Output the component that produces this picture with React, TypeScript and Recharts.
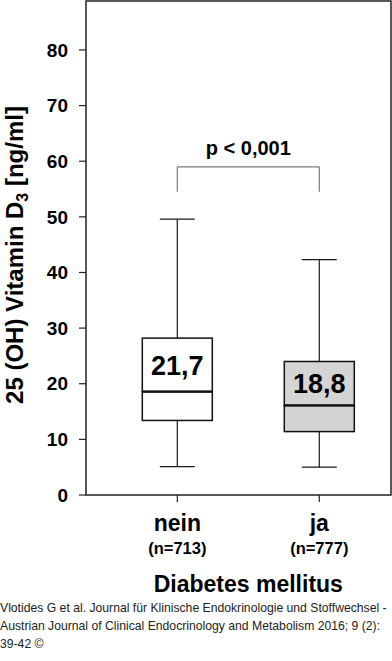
import React from "react";
import {
  ComposedChart,
  Bar,
  XAxis,
  YAxis,
  Cell,
  LabelList,
  ReferenceLine,
  ReferenceArea,
} from "recharts";

const groups = ["nein", "ja"];
const counts = ["n=713", "n=777"];
const whiskerLow = [5.1, 5.0];
const q1 = [13.4, 11.4];
const median = [18.6, 16.1];
const q3 = [28.2, 24.0];
const whiskerHigh = [49.6, 42.3];
const means = [21.7, 18.8];
const yTicks = [0, 10, 20, 30, 40, 50, 60, 70, 80];
const pLabel = "p < 0,001";
const bracketTop = 59.0;
const bracketLegEnd = 54.5;

const FONT = "'Liberation Sans', Arial, sans-serif";
const boxFills = ["#ffffff", "#d4d4d4"];
const X_MIN = 0.357;
const X_MAX = 2.505;
const Y_MAX = 88.8;
const CAP = 35;

const data = groups.map((g, i) => ({
  pos: i + 1,
  name: g,
  mean: means[i],
  base: whiskerLow[i],
  lowWhisker: q1[i] - whiskerLow[i],
  lowBox: median[i] - q1[i],
  highBox: q3[i] - median[i],
  highWhisker: whiskerHigh[i] - q3[i],
}));

function LowWhisker(props: any) {
  const { x, y, width, height } = props;
  const cx = x + width / 2;
  return (
    <g stroke="#1a1a1a" strokeWidth={1.2}>
      <line x1={cx} x2={cx} y1={y} y2={y + height} />
      <line x1={cx - CAP / 2} x2={cx + CAP / 2} y1={y + height} y2={y + height} />
    </g>
  );
}

function HighWhisker(props: any) {
  const { x, y, width, height } = props;
  const cx = x + width / 2;
  return (
    <g stroke="#1a1a1a" strokeWidth={1.2}>
      <line x1={cx} x2={cx} y1={y} y2={y + height} />
      <line x1={cx - CAP / 2} x2={cx + CAP / 2} y1={y} y2={y} />
    </g>
  );
}

function LowBox(props: any) {
  const { x, y, width, height, fill } = props;
  return <rect x={x} y={y} width={width} height={height} fill={fill} stroke="#111" strokeWidth={1.5} />;
}

function HighBox(props: any) {
  const { x, y, width, height, fill } = props;
  return (
    <g>
      <rect x={x} y={y} width={width} height={height} fill={fill} stroke="#111" strokeWidth={1.5} />
      {/* median */}
      <line x1={x} x2={x + width} y1={y + height} y2={y + height} stroke="#111" strokeWidth={2.2} />
    </g>
  );
}

function MeanLabel(props: any) {
  const vb = props.viewBox || props;
  const { x, y, width, height } = vb;
  return (
    <text
      x={x + width / 2}
      y={y + height / 2 + 10}
      textAnchor="middle"
      fill="#000"
      fontSize={27}
      fontWeight="bold"
      fontFamily={FONT}
    >
      {String(props.value).replace(".", ",")}
    </text>
  );
}

function GroupTick(props: any) {
  const { x, y, payload } = props;
  const i = Math.round(payload.value) - 1;
  return (
    <g fontFamily={FONT} fontWeight="bold" fill="#000" textAnchor="middle">
      <text x={x} y={y + 27} fontSize={23}>
        {groups[i]}
      </text>
      <text x={x} y={y + 50} fontSize={16.5}>
        ({counts[i]})
      </text>
    </g>
  );
}

function XTitle(props: any) {
  const { x, y, width } = props.viewBox;
  const cx = x + ((1.5 - X_MIN) / (X_MAX - X_MIN)) * width;
  return (
    <text x={cx} y={y + 96.5} textAnchor="middle" fontSize={23} fontWeight="bold" fontFamily={FONT} fill="#000">
      Diabetes mellitus
    </text>
  );
}

function YTitle(props: any) {
  const { y, height } = props.viewBox;
  const cy = y + height / 2 + 7;
  return (
    <text
      x={23}
      y={cy}
      transform={`rotate(-90, 23, ${cy})`}
      textAnchor="middle"
      fontSize={24}
      fontWeight="bold"
      fontFamily={FONT}
      fill="#000"
    >
      25 (OH) Vitamin D
      <tspan dy={5} fontSize={16}>
        3
      </tspan>
      <tspan dy={-5}> [ng/ml]</tspan>
    </text>
  );
}

export default function App() {
  return (
    <div style={{ position: "absolute", left: 0, top: 0, width: 392, height: 661, background: "#fff" }}>
      <ComposedChart
        width={392}
        height={600}
        data={data}
        margin={{ top: 1, right: 1, bottom: 0, left: 0 }}
      >
        <XAxis
          dataKey="pos"
          type="number"
          domain={[X_MIN, X_MAX]}
          ticks={[1, 2]}
          height={105}
          tickSize={7}
          tickMargin={2}
          axisLine={false}
          tickLine={{ stroke: "#222", strokeWidth: 1.2 }}
          tick={<GroupTick />}
          label={{ content: <XTitle /> }}
        />
        <YAxis
          type="number"
          domain={[0, Y_MAX]}
          ticks={yTicks}
          width={86}
          tickSize={7}
          tickMargin={11}
          axisLine={false}
          tickLine={{ stroke: "#222", strokeWidth: 1.2 }}
          tick={{ fill: "#000", fontSize: 19, fontWeight: "bold", fontFamily: FONT }}
          label={{ content: <YTitle /> }}
        />
        <ReferenceArea
          x1={X_MIN}
          x2={X_MAX}
          y1={0}
          y2={Y_MAX}
          fill="none"
          fillOpacity={0}
          stroke="#222"
          strokeWidth={1.5}
          strokeOpacity={1}
        />
        <Bar dataKey="base" stackId="box" barSize={70} fill="none" shape={() => null} isAnimationActive={false} />
        <Bar dataKey="lowWhisker" stackId="box" barSize={70} shape={<LowWhisker />} isAnimationActive={false} />
        <Bar dataKey="lowBox" stackId="box" barSize={70} shape={<LowBox />} isAnimationActive={false}>
          {data.map((_, i) => (
            <Cell key={`lb-${i}`} fill={boxFills[i]} />
          ))}
        </Bar>
        <Bar dataKey="highBox" stackId="box" barSize={70} shape={<HighBox />} isAnimationActive={false}>
          {data.map((_, i) => (
            <Cell key={`hb-${i}`} fill={boxFills[i]} />
          ))}
          <LabelList dataKey="mean" content={<MeanLabel />} />
        </Bar>
        <Bar dataKey="highWhisker" stackId="box" barSize={70} shape={<HighWhisker />} isAnimationActive={false} />
        <ReferenceLine
          segment={[
            { x: 1, y: bracketTop },
            { x: 2, y: bracketTop },
          ]}
          stroke="#7a7a7a"
          strokeWidth={1.2}
          label={{
            value: pLabel,
            position: "top",
            offset: 12,
            fill: "#000",
            fontSize: 20,
            fontWeight: "bold",
            fontFamily: FONT,
          }}
        />
        <ReferenceLine
          segment={[
            { x: 1, y: bracketLegEnd },
            { x: 1, y: bracketTop },
          ]}
          stroke="#7a7a7a"
          strokeWidth={1.2}
        />
        <ReferenceLine
          segment={[
            { x: 2, y: bracketLegEnd },
            { x: 2, y: bracketTop },
          ]}
          stroke="#7a7a7a"
          strokeWidth={1.2}
        />
      </ComposedChart>
      <div
        style={{
          position: "absolute",
          left: 0,
          top: 599,
          fontFamily: FONT,
          fontSize: 12.2,
          lineHeight: "18px",
          color: "#222",
          whiteSpace: "nowrap",
        }}
      >
        Vlotides G et al. Journal für Klinische Endokrinologie und Stoffwechsel -
        <br />
        Austrian Journal of Clinical Endocrinology and Metabolism 2016; 9 (2):
        <br />
        39-42 ©
      </div>
    </div>
  );
}
